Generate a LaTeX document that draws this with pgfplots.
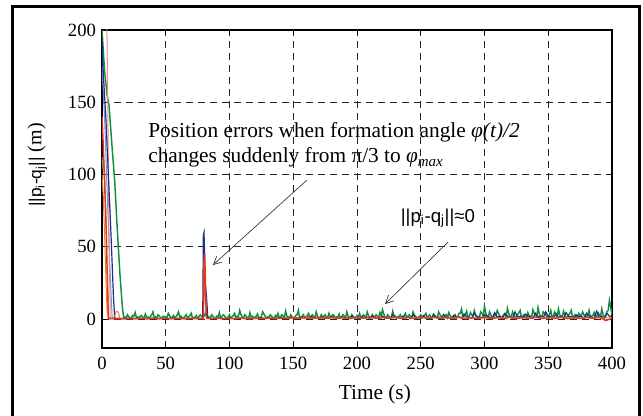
\documentclass[border=0pt]{standalone}
\usepackage{fontspec}
\setmainfont{Liberation Serif}
\newfontfamily\arial{Liberation Sans}
\usepackage{pgfplots}
\pgfplotsset{compat=1.18}
\usetikzlibrary{arrows.meta}
\definecolor{cgreen}{HTML}{0E9040}
\definecolor{cblue}{HTML}{1A2F8F}
\definecolor{cred}{HTML}{E8381A}
\definecolor{corange}{HTML}{E8803A}
\definecolor{cpink}{HTML}{F08A8A}
\definecolor{clgreen}{HTML}{6CC070}
\definecolor{clblue}{HTML}{7F8FD0}
\begin{document}
\begin{tikzpicture}
\useasboundingbox (-76.5pt,-51pt) rectangle (405.75pt,261pt);
\draw[line width=2.25pt] (-66.75pt,-70pt) -- (-66.75pt,255.75pt) -- (402.75pt,255.75pt) -- (402.75pt,-70pt);
\begin{axis}[
  at={(0pt,0pt)}, anchor=south west,
  scale only axis, width=382.5pt, height=238.5pt,
  xmin=0, xmax=400, ymin=-20, ymax=200,
  xtick={0,50,...,400}, ytick={0,50,...,200},
  grid=major,
  major grid style={black!85, line width=0.6pt, dash pattern=on 5.5pt off 3.5pt},
  axis line style={black, line width=0.8pt},
  tick align=inside, major tick length=3pt,
  tick style={black, line width=0.6pt},
  /pgf/number format/assume math mode=true,
  tick label style={font=\fontsize{14}{16}\selectfont},
  xticklabel style={yshift=-3pt},
  yticklabel style={xshift=-1pt},
  xlabel={Time (s)},
  xlabel style={at={(axis description cs:0.535,-0.1635)}, anchor=base, font=\fontsize{16}{18}\selectfont},
  ylabel={{\arial\fontsize{13}{15}\selectfont ||p\textsubscript{i}-q\textsubscript{j}||}\ (m)},
  ylabel style={at={(axis description cs:-0.127,0.575)}, anchor=center, rotate=0, font=\fontsize{15}{17}\selectfont},
  every axis plot/.append style={line width=0.75pt, mark=none},
]
% light blue
\addplot[clblue] coordinates {(0,175)(2,140)(4,90)(6,40)(8,0.3)(20,0.2)};
% light green
\addplot[clgreen] coordinates {(0,112)(0.7,105)(1.4,110)(2.2,100)(3,75)(4,40)(5,0.5)(10,0.3)};
% green
\addplot[cgreen, line width=1.1pt] coordinates {
(0,200)(2,172)(4,155)(5.5,148)(8,118)(10,95)(12,62)(14,32)(16,8)(17,1)
(18,1.5)(19,0.8)(20,3)(21,1.5)(22,1)(23,0.5)(24,2.5)(25,2)(26,4.5)(27,1)(28,1.5)(29,0.6)
(30,2)(31,2.5)(32,1)(33,0.8)(34,3.5)(35,1.2)(36,1.5)(37,0.5)(38,2)(39,3)
(40,5)(41,1)(42,1.5)(43,0.7)(44,3)(45,2)(46,1)(47,0.5)(48,2)(49,1.5)
(50,1.5)(51,0.8)(52,4)(53,2.5)(54,1)(55,0.6)(56,2.5)(57,1.2)(58,1.5)(59,3)
(60,5)(61,1)(62,2)(63,0.5)(64,1)(65,1.8)(66,3)(67,0.7)(68,1.5)(69,2.5)
(70,4)(71,0.6)(72,1)(73,1.5)(74,2.5)(75,0.8)(76,1.5)(77,3)(78,2)(79,1)
(80,2)(81,4)(82,2)(83,1)(84,1.5)(85,0.7)(86,3)(87,2)(88,1)(89,0.5)
(90,2)(91,1.5)(92,4.5)(93,0.8)(94,1.5)(95,3)(96,2.5)(97,0.6)(98,1)(99,1.5)
(100,3)(101,0.8)(102,1.5)(103,2.5)(104,4)(105,0.6)(106,2)(107,1.8)(108,6)(109,3)
(110,1.5)(111,0.7)(112,3)(113,2)(114,1)(115,0.5)(116,4.5)(117,1.5)(118,2)(119,0.8)
(120,1.5)(121,2)(122,3.5)(123,0.6)(124,1)(125,1.5)(126,5)(127,3.5)(128,2)(129,0.8)
(130,1.5)(131,1.2)(132,3)(133,2)(134,1)(135,0.5)(136,2.5)(137,1.5)(138,4)(139,0.8)
(140,1.5)(141,3)(142,2)(143,1)(144,5.5)(145,2)(146,1.5)(147,0.6)(148,3)(149,1.8)
(150,1)(151,0.7)(152,2.5)(153,3)(154,6)(155,1)(156,1.5)(157,2)(158,3)(159,0.6)
(160,1)(161,2.5)(162,4)(163,0.8)(164,2)(165,3)(166,1.5)(167,1)(168,5)(169,2)
(170,1)(171,0.7)(172,3)(173,1.5)(174,2)(175,3)(176,1.5)(177,0.8)(178,4)(179,2)
(180,1)(181,3)(182,2.5)(183,0.7)(184,1.5)(185,1.5)(186,3.5)(187,0.8)(188,1)(189,3)
(190,2)(191,1)(192,5)(193,2)(194,1.5)(195,0.6)(196,3)(197,1.8)(198,1)(199,0.8)
(200,2.5)(201,1.5)(202,4)(203,0.7)(204,1.5)(205,3)(206,2)(207,1)(208,5)(209,2.5)
(210,1)(211,0.8)(212,3)(213,1.5)(214,1.5)(215,3)(216,2)(217,1)(218,4.5)(219,2)
(220,6.5)(221,3.5)(222,1.5)(223,0.8)(224,3)(225,2)(226,1)(227,1)(228,5.5)(229,2.5)
(230,2)(231,0.7)(232,1.5)(233,2)(234,3)(235,0.8)(236,1)(237,2.5)(238,4)(239,1)
(240,2)(241,3)(242,1.5)(243,1)(244,5)(245,2.5)(246,2)(247,0.6)(248,1)(249,1.8)
(250,3)(251,0.8)(252,1.5)(253,2.5)(254,4)(255,1)(256,2)(257,3)(258,1)(259,0.8)
(260,3.5)(261,2.5)(262,1.5)(263,1)(264,5)(265,3)(266,2)(267,0.8)(268,1)(269,2)
(270,3)(271,1)(272,4.5)(273,2.5)(274,1.5)(275,0.8)(276,2.5)(277,3)(278,1)(279,1.5)
(280,4)(281,4)(282,7)(283,1.5)(284,2)(285,3)(286,5.5)(287,1)(288,1.5)(289,4.5)
(290,3)(291,2)(292,6)(293,3)(294,2)(295,1)(296,1.5)(297,5)(298,4)(299,2)
(300,9)(301,4)(302,2)(303,1.5)(304,5)(305,3)(306,1.5)(307,1)(308,3.5)(309,2.5)
(310,6)(311,4)(312,2)(313,1)(314,1.5)(315,3)(316,4)(317,1.5)(318,7.5)(319,4)
(320,2)(321,1.5)(322,5)(323,3)(324,1.5)(325,1)(326,3)(327,4.5)(328,6)(329,1.5)
(330,2)(331,3)(332,1.5)(333,1)(334,4.5)(335,2.5)(336,2)(337,1.5)(338,6.5)(339,4)
(340,3)(341,2)(342,8)(343,3.5)(344,2)(345,1)(346,5)(347,4)(348,3)(349,1.5)
(350,1.5)(351,3)(352,6)(353,1)(354,2)(355,5)(356,4)(357,1.5)(358,7)(359,3)
(360,2)(361,1.5)(362,5.5)(363,3)(364,1.5)(365,1)(366,3)(367,4)(368,6)(369,1.5)
(370,2)(371,3)(372,1.5)(373,1)(374,4)(375,2.5)(376,2.5)(377,5)(378,3)(379,1)
(380,1.5)(381,3)(382,6)(383,1.5)(384,2)(385,2.5)(386,4.5)(387,1)(388,1.5)(389,4.5)
(390,3)(391,1.5)(392,7)(393,3)(394,2)(395,1.5)(396,5)(397,6)(398,13)(399,8)(400,3)};
% pink
\addplot[cpink] coordinates {(3.5,230)(4.5,150)(5.5,60)(6.5,0.5)(20,0.3)};
% blue
\addplot[cblue, line width=0.9pt] coordinates {
(0,195)(1,170)(3,140)(5,100)(7,60)(9,15)(10,0.5)
(12,0.3)(16,0.5)(20,0.2)(24,0.6)(28,0.3)(32,0.5)(36,0.2)(40,0.7)(44,0.3)(48,0.5)
(52,0.2)(56,0.6)(60,0.3)(64,0.5)(68,0.2)(72,0.6)(76,0.3)(78.5,0.5)
(79,1)(79.5,58)(80,60)(80.5,45)(81,25)(82,15)(83,1)(84,0.5)
(88,0.3)(92,0.8)(96,0.3)(100,0.6)(104,0.2)(108,0.8)(112,0.3)(116,0.6)(120,0.4)
(124,1)(128,0.3)(132,0.7)(136,0.4)(140,1)(144,0.5)(148,1.2)(152,0.6)(154,0.5)(156,1.5)(158,0.8)
(160,0.8)(162,0.4)(164,1.8)(166,1)(168,0.7)(170,0.5)(172,1.5)(174,0.7)(176,1)(178,0.4)(180,2)(182,0.9)(184,0.8)(186,0.5)(188,1.6)(190,0.6)(192,1)(194,0.4)
(196,2.2)(198,1)(200,0.9)(202,0.5)(204,1.8)(206,0.7)(208,1.2)(210,0.4)(212,2.5)(214,0.9)(216,1)(218,0.5)(220,2)(222,0.6)(224,1.2)(226,0.4)(228,2.8)(230,1.2)
(232,1)(234,0.5)(236,2)(238,0.8)(240,1.4)(242,0.4)(244,3)(246,1)(248,1.2)(250,0.5)(252,2.5)(254,0.7)(256,1)(258,0.4)(260,2.8)(262,1)(264,1.5)(266,0.5)
(268,3.2)(270,0.8)(272,1.2)(274,0.4)(276,2.5)(278,1)(280,1.5)(282,0.6)(284,3.5)(286,1.5)(288,1.2)(290,0.5)(292,4)(294,1.2)(296,1.8)(298,0.6)(300,3)(302,2)
(304,1.5)(306,0.5)(308,4.5)(310,1.5)(312,2)(314,0.6)(316,3.5)(318,2)(320,1.5)(322,0.5)(324,5)(326,1.2)(328,2)(330,0.6)(332,3.5)(334,2)(336,1.5)(338,0.5)
(340,4)(342,1.5)(344,2)(346,0.6)(348,5)(350,2)(352,1.5)(354,0.5)(356,3.5)(358,1.2)(360,2)(362,0.6)(364,4.5)(366,2)(368,1.5)(370,0.5)(372,3)(374,1.5)(376,2)(378,0.6)
(380,4)(382,2)(384,1.5)(386,0.5)(388,5.5)(390,1.2)(392,2)(394,0.6)(396,4)(398,2)(400,1.5)};
% orange
\addplot[corange] coordinates {
(0,100)(1,85)(2,60)(3,30)(4,5)(5,1)(8,0.5)(10,2)(11,5)(12,5.5)(13,4)(14,0.5)
(20,0.3)(40,0.5)(60,0.3)(79.5,0.4)(80.2,30)(81,15)(82,0.5)(100,0.4)(150,0.6)
(200,0.8)(250,1)(300,0.7)(350,1)(400,0.8)};
% red
\addplot[cred, line width=1.1pt] coordinates {
(0,140)(1,120)(2,95)(3,70)(4,35)(5,1)(6,0.2)
(10,0.4)(15,0.2)(20,0.5)(25,0.2)(30,0.6)(35,0.3)(40,0.5)(45,0.2)(50,0.6)(55,0.3)
(60,0.5)(65,0.2)(70,0.6)(75,0.3)(79.5,0.3)(80,40)(80.5,45)(81,30)(81.5,10)(82,0.5)
(85,0.3)(90,0.6)(95,0.2)(100,0.5)(105,0.3)(110,0.7)(115,0.2)(120,0.5)(125,0.3)
(130,0.8)(135,0.3)(140,0.6)(145,0.4)(150,1)(155,0.5)(160,1.5)(165,0.6)(170,1.2)
(175,0.5)(180,1.4)(185,0.6)(190,1.2)(195,0.4)(200,1.3)(205,0.6)(210,1.5)(215,0.5)
(220,1.2)(225,0.6)(230,1.4)(235,0.5)(240,1.2)(245,0.4)(250,1.5)(255,0.6)(260,1.3)
(265,0.5)(270,1.2)(275,0.4)(280,1.5)(285,0.3)(290,1)(295,0.4)(300,1.6)(305,0.3)
(310,1)(315,0.5)(320,1.4)(325,0.3)(330,1.1)(335,0.5)(340,1.3)(345,0.4)(350,1)
(355,0.5)(360,1.2)(365,0.3)(370,1)(375,0.5)(380,1.2)(385,0.4)(390,1.5)(395,-1)(400,0.5)};
% annotations
\node[anchor=base west, inner sep=0pt, font=\fontsize{16}{18}\selectfont] at (axis cs:36.1,125.3) {Position errors when formation angle \textit{φ(t)/2}};
\node[anchor=base west, inner sep=0pt, font=\fontsize{16}{18}\selectfont] at (axis cs:36.1,108.0) {changes suddenly from π/3 to \textit{φ\textsubscript{max}}};
\draw[black!80, line width=0.5pt, -{Straight Barb[length=6pt,width=6pt]}] (axis cs:160.8,96.2) -- (axis cs:87,37.4);
\node[anchor=base, inner sep=0pt, font=\arial\fontsize{14}{16}\selectfont] at (axis cs:263.5,67.1) {||p\textsubscript{i}-q\textsubscript{j}||≈0};
\draw[black!80, line width=0.5pt, -{Straight Barb[length=6pt,width=6pt]}] (axis cs:271.4,53.3) -- (axis cs:222,10.4);
\end{axis}
\end{tikzpicture}
\end{document}
